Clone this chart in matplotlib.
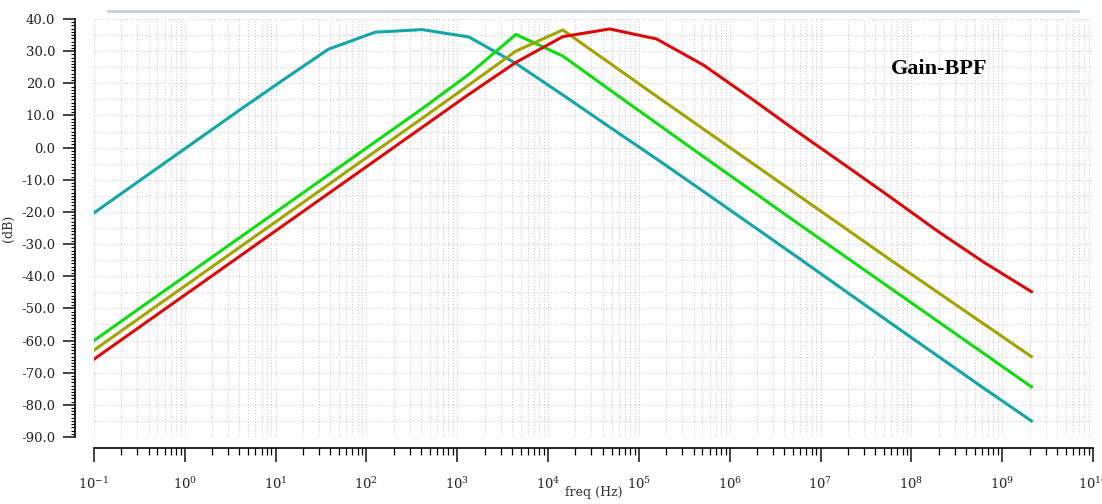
import math
import matplotlib.pyplot as plt
from matplotlib.ticker import LogLocator, MultipleLocator, FuncFormatter, NullFormatter
from matplotlib.lines import Line2D

plt.rcParams['axes.unicode_minus'] = False
plt.rcParams['font.family'] = ['DejaVu Serif']

# AC sweep points (Hz)
freq = [0.1, 0.328, 1.077, 3.534, 11.6, 38.06, 124.9, 410.0, 1345, 4415,
        14490, 47550, 156100, 512200, 1.681e6, 5.516e6, 1.810e7, 5.940e7,
        1.949e8, 6.396e8, 2.099e9]

# gain (dB) for each filter
gain_cyan = [-20.3, -10.0, 0.3, 10.6, 20.7, 30.6, 35.9, 36.7, 34.4, 26.2,
             16.4, 6.4, -3.5, -13.6, -23.8, -34.0, -44.3, -54.6, -64.8, -75.0, -85.0]
gain_green = [-60.0, -49.7, -39.4, -29.1, -18.8, -8.5, 1.8, 12.1, 22.8, 35.2,
              28.5, 18.0, 7.6, -2.8, -13.1, -23.4, -33.6, -43.8, -54.0, -64.2, -74.4]
gain_olive = [-63.0, -52.7, -42.4, -32.1, -21.8, -11.5, -1.2, 9.1, 19.5, 30.0,
              36.6, 26.3, 16.0, 5.8, -4.4, -14.6, -24.8, -35.0, -45.0, -55.0, -65.0]
gain_red = [-65.8, -55.5, -45.2, -34.9, -24.6, -14.3, -4.0, 6.3, 16.6, 26.5,
            34.5, 36.9, 33.8, 25.7, 15.5, 5.0, -5.2, -15.5, -26.0, -35.8, -44.8]

fig = plt.figure(figsize=(11.02, 5.04), dpi=100)
ax = fig.add_axes([94 / 1102, 1 - 437 / 504, 999 / 1102, 418 / 504])

ax.plot(freq, gain_cyan, color='#12a6a8', lw=2.2)
ax.plot(freq, gain_green, color='#10dd10', lw=2.2)
ax.plot(freq, gain_olive, color='#a3a300', lw=2.2)
ax.plot(freq, gain_red, color='#dd0a0a', lw=2.2)

ax.set_xscale('log')
ax.set_xlim(0.1, 1e10)
ax.set_ylim(-90, 40)

ax.xaxis.set_major_locator(LogLocator(base=10, numticks=20))
ax.xaxis.set_minor_locator(LogLocator(base=10, subs=range(2, 10), numticks=200))
ax.xaxis.set_minor_formatter(NullFormatter())


def dec_label(v, pos):
    e = int(round(math.log10(v)))
    return r'$\mathregular{10^{%d}}$' % e


ax.xaxis.set_major_formatter(FuncFormatter(dec_label))
ax.yaxis.set_major_locator(MultipleLocator(10))
ax.yaxis.set_minor_locator(MultipleLocator(1))
ax.yaxis.set_major_formatter(FuncFormatter(lambda v, p: '%.1f' % v))

# grid: decades + minors on x, every 5 dB on y
ax.grid(True, which='both', axis='x', color='#cfcfcf', ls=':', lw=0.8)
ax.grid(True, which='major', axis='y', color='#cfcfcf', ls=':', lw=0.8)
ax.hlines([v + 5 for v in range(-90, 40, 10)], 0.1, 1e10,
          colors='#cfcfcf', linestyles=':', lw=0.8, zorder=0.5)
ax.axvline(1e10, color='#cfcfcf', ls=':', lw=0.8)

for s in ['top', 'right']:
    ax.spines[s].set_visible(False)
ax.spines['left'].set_position(('outward', 14))
ax.spines['bottom'].set_position(('outward', 8))
ax.spines['left'].set_linewidth(1.2)
ax.spines['bottom'].set_linewidth(1.2)

ax.tick_params(axis='y', which='major', direction='out', length=9, width=1.2,
               pad=5, labelsize=9.5, colors='#222222')
ax.tick_params(axis='y', which='minor', direction='out', length=3, width=0.8)
ax.tick_params(axis='x', which='major', direction='out', length=10, width=1.2,
               pad=10, labelsize=9.5, colors='#222222')
ax.tick_params(axis='x', which='minor', direction='out', length=5, width=0.9)

ax.set_xlabel('freq (Hz)', fontsize=9, labelpad=-4, color='#333333')
ax.set_ylabel('(dB)', fontsize=9, color='#333333')
ax.yaxis.set_label_coords(-0.079, 0.5)

ax.text(0.846, 0.88, 'Gain-BPF', transform=ax.transAxes, ha='center', va='center',
        fontsize=16, fontweight='bold', family='Liberation Serif')

fig.lines.append(Line2D([108 / 1102, 1078 / 1102], [1 - 11 / 504, 1 - 11 / 504],
                        transform=fig.transFigure, color='#c3cbd9', lw=1.8))

fig.savefig('out.png', dpi=100)
